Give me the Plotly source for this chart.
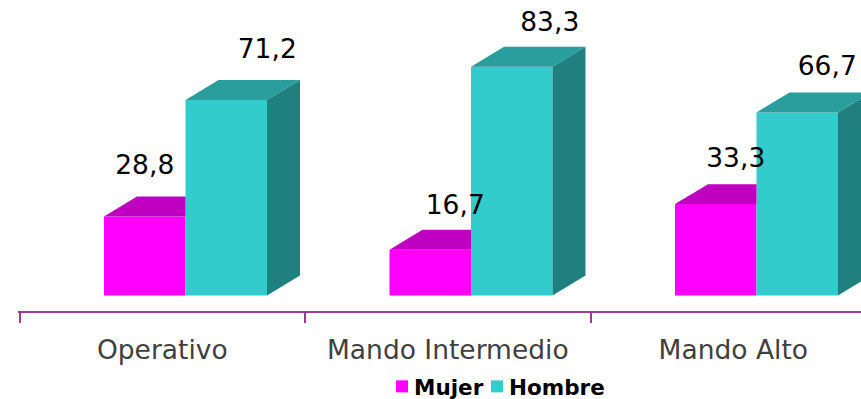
import plotly.graph_objects as go

categories = ["Operativo", "Mando Intermedio", "Mando Alto"]
mujer = [28.8, 16.7, 33.3]
hombre = [71.2, 83.3, 66.7]

# layout helpers (axis units)
PX_X = 285.5
PX_Y = 2.75
W, H = 861, 399
AXIS_PX = 311.5
BASE_PX = 296
LEFT_PX = 18
CENTER0 = 162.3
dx = 33 / PX_X
dy = 20 / PX_Y
bar_w = 81.5 / PX_X
off_m = -58.3 / PX_X
off_h = off_m + bar_w
xs = list(range(len(categories)))

m_label_dx = [0 / PX_X + off_m + bar_w / 2, 25 / PX_X + off_m + bar_w / 2, 20 / PX_X + off_m + bar_w / 2]
h_label_dx = [41 / PX_X + off_h + bar_w / 2, 38 / PX_X + off_h + bar_w / 2, 30 / PX_X + off_h + bar_w / 2]
m_label_dy = [49, 42, 44]
h_label_dy = [49, 43, 44]

FRONT_M, TOP_M = "#FF00FF", "#C000C0"
FRONT_H, TOP_H, SIDE_H = "#33CCCC", "#2A9D9D", "#208080"
PURPLE = "#9A3A9A"


def poly(points_list, color):
    px, py = [], []
    for pts in points_list:
        for a, b in pts:
            px.append(a)
            py.append(b)
        px.append(None)
        py.append(None)
    return go.Scatter(x=px, y=py, mode="lines", fill="toself", fillcolor=color,
                      line=dict(width=0, color=color), showlegend=False, hoverinfo="skip")


fig = go.Figure()
fig.add_bar(x=xs, y=mujer, name="Mujer", width=bar_w, offset=off_m, marker=dict(color=FRONT_M, line_width=0))
fig.add_bar(x=xs, y=hombre, name="Hombre", width=bar_w, offset=off_h, marker=dict(color=FRONT_H, line_width=0))

fig.add_trace(poly([[(i + off_m, v), (i + off_m + dx, v + dy), (i + off_h, v + dy), (i + off_h, v)]
                    for i, v in zip(xs, mujer)], TOP_M))
fig.add_trace(poly([[(i + off_h, v), (i + off_h + dx, v + dy), (i + off_h + bar_w + dx, v + dy), (i + off_h + bar_w, v)]
                    for i, v in zip(xs, hombre)], TOP_H))
fig.add_trace(poly([[(i + off_h + bar_w, 0), (i + off_h + bar_w + dx, dy), (i + off_h + bar_w + dx, v + dy), (i + off_h + bar_w, v)]
                    for i, v in zip(xs, hombre)], SIDE_H))

lab_x = [i + d for i, d in zip(xs, m_label_dx)] + [i + d for i, d in zip(xs, h_label_dx)]
lab_y = [v + d / PX_Y for v, d in zip(mujer, m_label_dy)] + [v + d / PX_Y for v, d in zip(hombre, h_label_dy)]
lab_t = [f"{v:.1f}".replace(".", ",") for v in mujer + hombre]
fig.add_trace(go.Scatter(x=lab_x, y=lab_y, text=lab_t, mode="text", textposition="middle center",
                         textfont=dict(family="DejaVu Sans", size=26.5, color="#000000"),
                         xaxis="x2", showlegend=False, hoverinfo="skip", cliponaxis=False))

x_range = [(LEFT_PX - CENTER0) / PX_X, (W - CENTER0) / PX_X]
y_range = [-(AXIS_PX - BASE_PX) / PX_Y, BASE_PX / PX_Y]

fig.update_layout(
    width=W, height=H, margin=dict(l=LEFT_PX, r=0, t=0, b=H - AXIS_PX, autoexpand=False),
    paper_bgcolor="white", plot_bgcolor="white", barmode="overlay",
    xaxis=dict(range=x_range, tickmode="array", tickvals=[-0.5, 0.5, 1.5, 2.5], ticktext=["", "", "", ""],
               ticks="outside", ticklen=10, tickwidth=2, tickcolor=PURPLE,
               showline=True, linecolor=PURPLE, linewidth=2, showgrid=False, zeroline=False),
    xaxis2=dict(range=x_range, overlaying="x", side="bottom", anchor="y", tickmode="array", tickvals=xs,
                ticktext=categories, ticks="outside", ticklen=15, tickcolor="rgba(0,0,0,0)",
                tickfont=dict(family="DejaVu Sans", size=26.5, color="#404040"),
                showline=False, showgrid=False, zeroline=False),
    yaxis=dict(range=y_range, visible=False),
    legend=dict(orientation="h", x=(374 - LEFT_PX) / (W - LEFT_PX), xanchor="left",
                y=-(387 - AXIS_PX) / AXIS_PX, yanchor="middle", bgcolor="rgba(0,0,0,0)",
                font=dict(family="DejaVu Sans", size=21.5, color="#000000", weight="bold"),
                itemwidth=30, traceorder="normal", entrywidth=50, entrywidthmode="pixels"),
)
post = ("document.body.style.margin='0';"
        "document.querySelectorAll('.legendsymbols').forEach(function(e){e.setAttribute('transform','translate(8,0)');});"
        "document.querySelectorAll('.legend [clip-path], .legend .scrollbox').forEach(function(e){e.removeAttribute('clip-path');});")
fig.write_html("out.html", post_script=post, config={"displayModeBar": False})
